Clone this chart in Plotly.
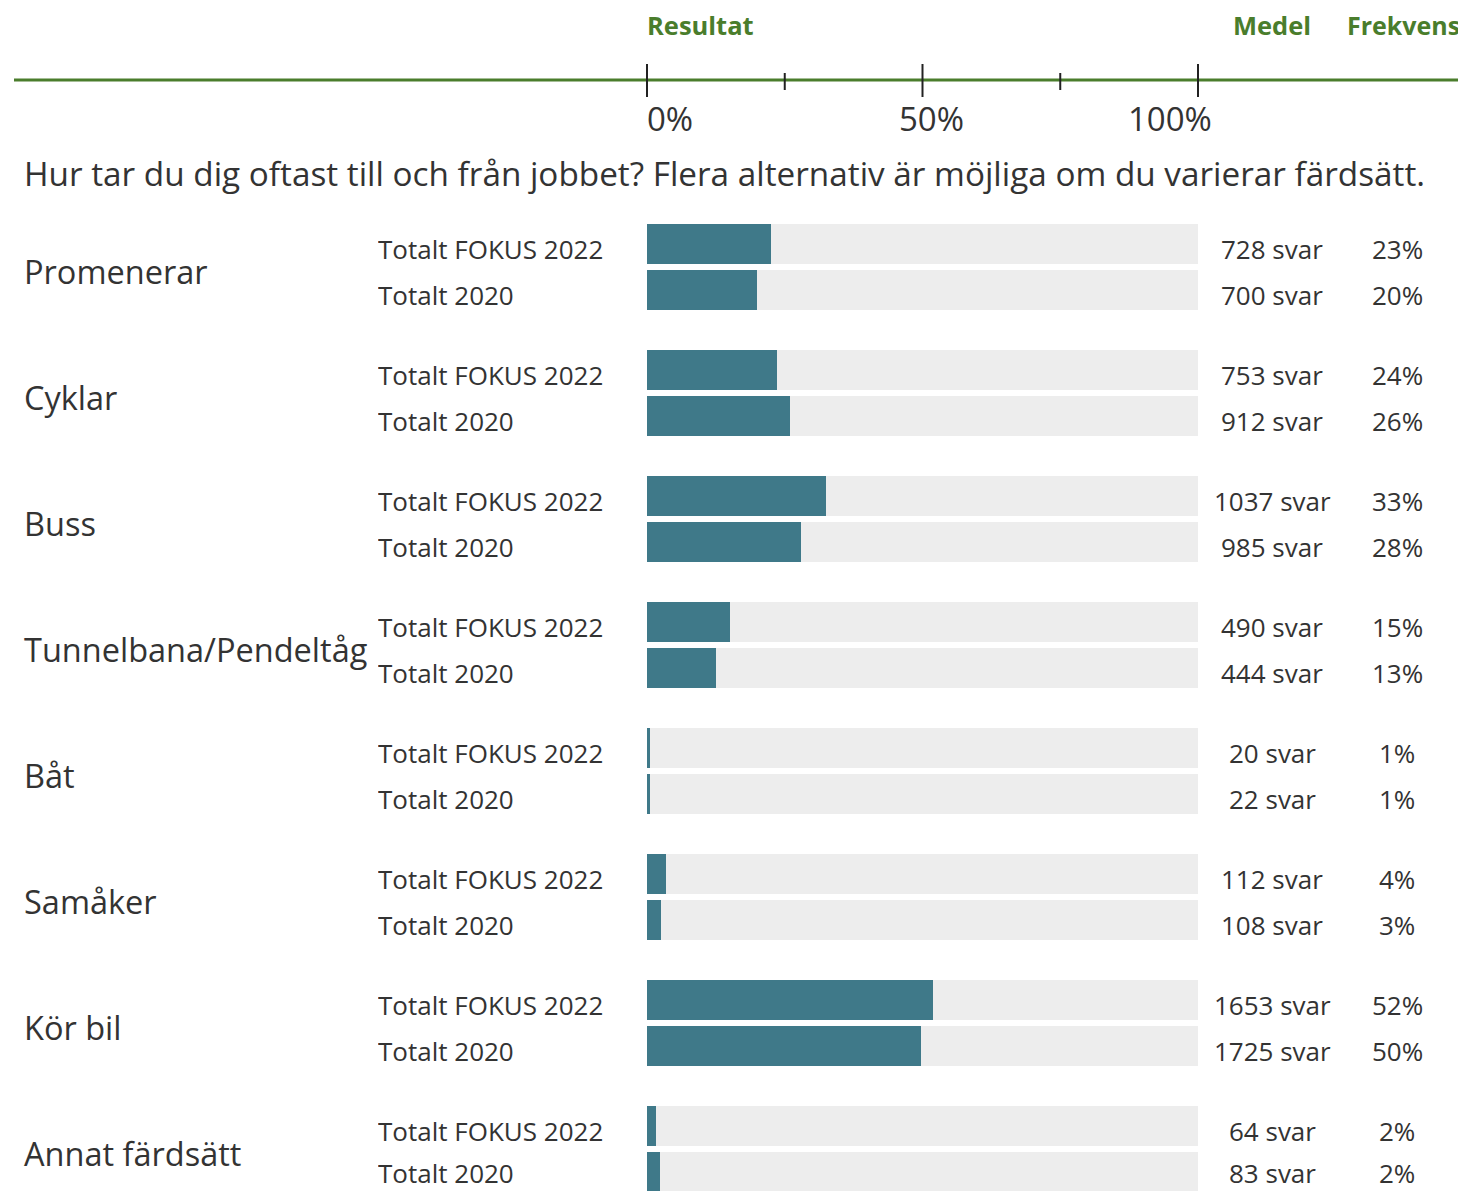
import plotly.graph_objects as go

# ---------------- data ----------------
categories = ["Promenerar", "Cyklar", "Buss", "Tunnelbana/Pendeltåg",
              "Båt", "Samåker", "Kör bil", "Annat färdsätt"]
series_labels = ["Totalt FOKUS 2022", "Totalt 2020"]
pct_2022 = [22.5, 23.6, 32.4, 15.1, 0.6, 3.4, 51.9, 1.6]
pct_2020 = [20.0, 26.0, 28.0, 12.6, 0.6, 2.6, 49.8, 2.3]
n_2022 = [728, 753, 1037, 490, 20, 112, 1653, 64]
n_2020 = [700, 912, 985, 444, 22, 108, 1725, 83]
freq_2022 = ["23%", "24%", "33%", "15%", "1%", "4%", "52%", "2%"]
freq_2020 = ["20%", "26%", "28%", "13%", "1%", "3%", "50%", "2%"]
major_ticks = [0, 50, 100]
major_tick_labels = ["0%", "50%", "100%"]
minor_ticks = [25, 75]
question = "Hur tar du dig oftast till och från jobbet? Flera alternativ är möjliga om du varierar färdsätt."
headers = ["Resultat", "Medel", "Frekvens"]

# ---------------- layout constants ----------------
W, H = 1466, 1191
PAGE_OFF = 8            # default body margin of the html page
X0_PX, PX_PER_PCT = 647, 5.51
FONT = "Open Sans"
TEXT = "#333333"
GREEN = "#4a7d2c"
TEAL = "#3f7989"
GRAY = "#ededed"


def px2x(px):
    return (px - X0_PX) / PX_PER_PCT


GROUP_STEP = 126
ROW_Y = [244, 290]
BAR_H = 40
TEXT_MAX_Y = 1173       # keep the bottom row's texts inside the picture

y2022 = [ROW_Y[0] + GROUP_STEP * i for i in range(len(categories))]
y2020 = [ROW_Y[1] + GROUP_STEP * i for i in range(len(categories))]

fig = go.Figure()
# background (100%) bars
fig.add_trace(go.Bar(x=[100] * (2 * len(categories)), y=y2022 + y2020, orientation="h",
                     width=BAR_H, marker=dict(color=GRAY, line=dict(width=0)),
                     hoverinfo="skip", showlegend=False))
fig.add_trace(go.Bar(x=pct_2022, y=y2022, orientation="h", width=BAR_H,
                     marker=dict(color=TEAL, line=dict(width=0)), name=series_labels[0],
                     showlegend=False))
fig.add_trace(go.Bar(x=pct_2020, y=y2020, orientation="h", width=BAR_H,
                     marker=dict(color=TEAL, line=dict(width=0)), name=series_labels[1],
                     showlegend=False))

ann = []


def add_text(text, xpx, y, size, anchor="left", color=TEXT, bold=False, box_h=None):
    a = dict(x=px2x(xpx), y=y, xref="x", yref="y", text=(f"<b>{text}</b>" if bold else text),
             showarrow=False, xanchor=anchor, yanchor="middle", valign="middle",
             font=dict(family=FONT, size=size, color=color))
    if box_h:
        a["height"] = box_h
    ann.append(a)


# headers
add_text(headers[0], 645, 25, 25.5, "left", GREEN, True)
add_text(headers[1], 1272, 25, 25.5, "center", GREEN, True)
add_text(headers[2], 1403, 25, 25, "center", GREEN, True)

# axis tick labels
tick_label_px = [670, 931, 1170]
for lab, cx in zip(major_tick_labels, tick_label_px):
    add_text(lab, cx, 118, 33, "center")

# question
add_text(question, 22, 173, 33.3, "left")

for i, cat in enumerate(categories):
    add_text(cat, 22, (y2022[i] + y2020[i]) / 2 + 4, 32.5, "left")
    for j, (yy, n, fr) in enumerate([(y2022[i], n_2022[i], freq_2022[i]),
                                      (y2020[i], n_2020[i], freq_2020[i])]):
        ty = min(yy + 5, TEXT_MAX_Y)
        add_text(series_labels[j], 376, ty, 26, "left", box_h=26)
        add_text(f"{n} svar", 1272, ty, 26, "center", box_h=26)
        add_text(fr, 1397, ty, 26, "center", box_h=26)

shapes = [dict(type="line", xref="x", yref="y", x0=px2x(14), x1=px2x(1462), y0=80, y1=80,
               line=dict(color=GREEN, width=3), layer="above")]
for t in major_ticks:
    shapes.append(dict(type="line", xref="x", yref="y", x0=t, x1=t, y0=64, y1=97,
                       line=dict(color="#222222", width=2), layer="above"))
for t in minor_ticks:
    shapes.append(dict(type="line", xref="x", yref="y", x0=t, x1=t, y0=73, y1=90,
                       line=dict(color="#222222", width=2), layer="above"))

fig.update_layout(
    width=W, height=H, margin=dict(l=0, r=0, t=0, b=0),
    paper_bgcolor="white", plot_bgcolor="white",
    barmode="overlay", bargap=0,
    xaxis=dict(range=[px2x(PAGE_OFF), px2x(W + PAGE_OFF)], visible=False, fixedrange=True),
    yaxis=dict(range=[H + PAGE_OFF, PAGE_OFF], visible=False, fixedrange=True),
    annotations=ann, shapes=shapes, showlegend=False,
)

fig.write_html("out.html")
